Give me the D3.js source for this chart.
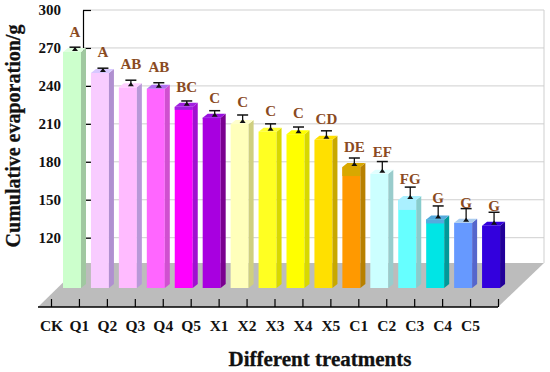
<!DOCTYPE html>
<html>
<head>
<meta charset="utf-8">
<script src="https://cdn.jsdelivr.net/npm/d3@7"></script>
<style>
  html, body { margin: 0; padding: 0; background: #fff; }
  svg { display: block; }
  text { font-family: "Liberation Serif", serif; font-weight: bold; fill: #111; }
</style>
</head>
<body>
<div id="chart"></div>
<script>
const categories = ['CK','Q1','Q2','Q3','Q4','Q5','X1','X2','X3','X4','X5','C1','C2','C3','C4','C5'];
const values = [270,253.4,242,241,226.6,218,213,207,205,200.5,179,173.7,153,137.6,135,132.6];
const errors = [0.6,0.6,2.5,1.5,1.5,2.4,4,3,2.5,4,4,6.5,7,7.5,8,7.5];
const letters = ['A','A','AB','AB','BC','C','C','C','C','CD','DE','EF','FG','G','G','G'];
// level of each letter's baseline, read against the y axis
const letterLevels = [278.6,262.8,253.4,251,235,226.5,223,216,214.6,210,187.7,184,162.4,147.4,143.5,141];
const frontColors = ['#CCFFCC','#F8CCFF','#FFBBFF','#FF66FF','#FF00FF','#A800E0','#FFFFBB','#FFFF22','#FFFF00','#FFE000','#FF9900','#CCFFFF','#66FFFF','#00E5E5','#6699FF','#3300DD'];
const sideColors = ['#A0C8A0','#B090D0','#B898D8','#D050D0','#A010D0','#7A0090','#CFCF80','#D8D800','#D8D800','#C8A800','#B88000','#99CCCC','#88CCCC','#009999','#5566CC','#220099'];
const capColors = ['#E0FFE0','#D8C8FF','#FFD0FF','#B070F0','#A020E0','#9910E0','#FFFFCC','#FFFF33','#FFFF00','#FFE000','#D8A800','#E0FFFF','#AAF0FF','#55AADD','#AACCEE','#3300DD'];
const yTicks = [120,150,180,210,240,270,300];

const width = 550, height = 372;
const wallLeft = 83, wallRight = 544, wallTop = 10, wallBottom = 263;
const floorDx = 45, floorDy = 44;
const barInset = 12, barWidth = 18, sideDx = 5, capDy = 4, barDrop = 25;
// extra band of cap colour on the front face, bars where the original shows one
const capBands = [0,0,0,0,3,1,0,0,0,0,9,0,10,4,0,0];

const svg = d3.select('#chart').append('svg')
  .attr('width', width)
  .attr('height', height);

const y = d3.scaleLinear().domain([100, 300]).range([wallBottom, wallTop]);
const xBand = d3.scaleBand().domain(categories).range([51, 498]);
const xTick = d3.scalePoint().domain(categories.concat([''])).range([51, 498]);

const floorFront = wallBottom + floorDy;
const barBase = y(100) + barDrop;

// back wall gridlines
svg.append('g').selectAll('line')
  .data(yTicks)
  .join('line')
  .attr('x1', wallLeft).attr('x2', wallRight)
  .attr('y1', d => y(d)).attr('y2', d => y(d))
  .attr('stroke', '#cfcfcf').attr('stroke-width', 1);

svg.append('line')
  .attr('x1', wallRight).attr('x2', wallRight)
  .attr('y1', wallTop).attr('y2', wallBottom)
  .attr('stroke', '#cfcfcf');

// floor
svg.append('polygon')
  .attr('points', [
    [wallLeft, wallBottom], [wallRight, wallBottom],
    [wallRight - floorDx - 1, floorFront], [wallLeft - floorDx, floorFront]
  ].join(' '))
  .attr('fill', '#bcbcbc');

// y axis
const yAxis = svg.append('g')
  .attr('transform', `translate(${wallLeft},0)`)
  .call(d3.axisLeft(y).tickValues(yTicks).tickSize(-8).tickPadding(22).tickSizeOuter(0));
yAxis.select('.domain').attr('stroke', '#000').attr('stroke-width', 1.2);
yAxis.selectAll('.tick line').attr('stroke', '#000').attr('stroke-width', 1.2);
yAxis.selectAll('text').style('font-size', '15px').style('font-family', '"Liberation Serif", serif').style('font-weight', 'bold');

// x axis
const xAxis = svg.append('g')
  .attr('transform', `translate(0,${floorFront})`)
  .call(d3.axisBottom(xTick).tickSize(-8).tickPadding(12).tickSizeOuter(0));
xAxis.select('.domain')
  .attr('d', `M${wallLeft - floorDx},0H${wallRight - floorDx - 1}`)
  .attr('stroke', '#000').attr('stroke-width', 1.5);
xAxis.selectAll('.tick line').attr('stroke', '#000').attr('stroke-width', 1.2);
xAxis.selectAll('text')
  .attr('dy', '0.75em')
  .style('font-size', '15.5px').style('font-family', '"Liberation Serif", serif').style('font-weight', 'bold');

// bars
const rows = categories.map((c, i) => ({ c, i, v: values[i], e: errors[i], letter: letters[i], level: letterLevels[i] }));
const bar = svg.append('g').selectAll('g')
  .data(rows)
  .join('g')
  .attr('transform', d => `translate(${xBand(d.c) + barInset},0)`);

bar.append('rect')
  .attr('x', 0).attr('width', barWidth)
  .attr('y', d => y(d.v) + capDy)
  .attr('height', d => barBase - y(d.v) - capDy)
  .attr('fill', d => frontColors[d.i]);

bar.append('rect')
  .attr('x', 0).attr('width', barWidth)
  .attr('y', d => y(d.v) + capDy)
  .attr('height', d => capBands[d.i])
  .attr('fill', d => capColors[d.i]);

bar.append('polygon')
  .attr('points', d => {
    const t = y(d.v);
    return [[barWidth, t + capDy], [barWidth + sideDx, t], [barWidth + sideDx, barBase - capDy], [barWidth, barBase]].join(' ');
  })
  .attr('fill', d => sideColors[d.i]);

bar.append('polygon')
  .attr('points', d => {
    const t = y(d.v);
    return [[0, t + capDy], [barWidth, t + capDy], [barWidth + sideDx, t], [sideDx, t]].join(' ');
  })
  .attr('fill', d => capColors[d.i]);

// error bars
const errX = barWidth / 2 + sideDx / 2 + 0.5;
bar.append('line')
  .attr('x1', errX).attr('x2', errX)
  .attr('y1', d => y(d.v + d.e))
  .attr('y2', d => y(d.v) + 2)
  .attr('stroke', '#111').attr('stroke-width', 1.3);
bar.append('line')
  .attr('x1', errX - 5.5).attr('x2', errX + 5.5)
  .attr('y1', d => y(d.v + d.e))
  .attr('y2', d => y(d.v + d.e))
  .attr('stroke', '#111').attr('stroke-width', 1.5);
bar.append('polygon')
  .attr('points', d => {
    const b = y(d.v) + 3;
    return [[errX - 3, b], [errX + 3, b], [errX, b - 4]].join(' ');
  })
  .attr('fill', '#111');

// significance letters
bar.append('text')
  .attr('x', errX)
  .attr('y', d => y(d.level))
  .attr('text-anchor', 'middle')
  .style('font-size', '15px')
  .style('fill', '#8a4a22')
  .text(d => d.letter);

// titles
svg.append('text')
  .attr('transform', 'translate(20,136) rotate(-90)')
  .attr('text-anchor', 'middle')
  .style('font-size', '20px')
  .style('stroke', '#111').style('stroke-width', 0.3)
  .text('Cumulative evaporation/g');

svg.append('text')
  .attr('x', 320).attr('y', 366)
  .attr('text-anchor', 'middle')
  .style('font-size', '21px')
  .style('stroke', '#111').style('stroke-width', 0.3)
  .text('Different treatments');
</script>
</body>
</html>
